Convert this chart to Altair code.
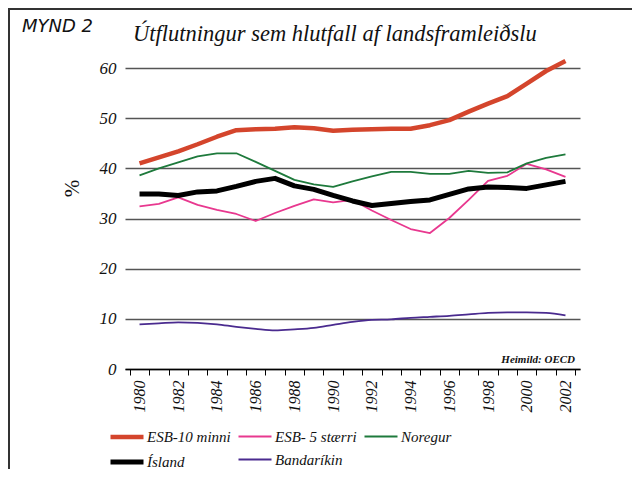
import altair as alt
import pandas as pd

years = list(range(1980, 2003))
esb10 = [41.0, 42.2, 43.4, 44.8, 46.3, 47.6, 47.8, 47.9, 48.2, 48.0, 47.5, 47.7,
         47.8, 47.9, 47.9, 48.6, 49.6, 51.3, 52.9, 54.4, 56.9, 59.4, 61.4]
esb5 = [32.4, 32.9, 34.2, 32.7, 31.7, 30.9, 29.5, 31.1, 32.5, 33.8, 33.2, 33.7,
        31.6, 29.7, 27.9, 27.1, 30.1, 33.7, 37.5, 38.5, 40.9, 39.8, 38.3]
noregur = [38.6, 40.0, 41.2, 42.4, 43.0, 43.0, 41.3, 39.5, 37.7, 36.8, 36.3, 37.4,
           38.4, 39.3, 39.3, 38.9, 38.9, 39.5, 39.1, 39.2, 41.0, 42.1, 42.8]
island = [34.9, 34.9, 34.6, 35.3, 35.5, 36.4, 37.4, 38.0, 36.5, 35.8, 34.6, 33.5,
          32.6, 33.0, 33.4, 33.7, 34.8, 35.9, 36.3, 36.2, 36.0, 36.7, 37.4]
usa = [8.9, 9.1, 9.3, 9.2, 8.9, 8.4, 8.0, 7.7, 7.9, 8.2, 8.8, 9.4,
       9.8, 9.9, 10.2, 10.4, 10.6, 10.9, 11.2, 11.3, 11.3, 11.2, 10.7]

series_names = ["ESB-10 minni", "ESB- 5 stærri", "Noregur", "Ísland", "Bandaríkin"]
series_values = [esb10, esb5, noregur, island, usa]
series_colors = ["#d4452c", "#e8388f", "#1e7a3c", "#000000", "#4a2b8f"]
series_widths = [4.5, 1.8, 1.8, 5, 1.8]

rows = []
for name, vals in zip(series_names, series_values):
    for y, v in zip(years, vals):
        rows.append({"year": y, "value": v, "series": name})
df = pd.DataFrame(rows)

W, H = 455, 301
PAD = {"left": 117, "top": 60, "right": 52, "bottom": 100}

serif = "Liberation Serif"

x_enc = alt.X("year:O", scale=alt.Scale(type="band", paddingInner=0, paddingOuter=0.25),
              axis=alt.Axis(title=None, labelAngle=-90, tickBand="extent",
                            labelExpr="datum.value % 2 == 0 ? datum.label : ''",
                            labelFont=serif, labelFontStyle="italic", labelFontSize=16,
                            labelColor="#111", labelPadding=5, tickSize=6,
                            tickColor="#000", tickWidth=1, domainColor="#000",
                            domainWidth=1.5, grid=False))
y_enc = alt.Y("value:Q", scale=alt.Scale(domain=[0, 60], nice=False),
              axis=alt.Axis(title="%", values=[0, 10, 20, 30, 40, 50, 60],
                            domain=False, ticks=False, grid=True, gridColor="#555",
                            gridWidth=1.4, labelFont=serif, labelFontStyle="italic",
                            labelFontSize=17, labelColor="#111", labelPadding=9,
                            titleFont=serif, titleFontSize=21, titleFontWeight="normal",
                            titleColor="#111", titleAngle=-90, titleX=-53, titleY=120,
                            titleAlign="center", titleBaseline="middle"))

# stroke symbol 3x longer than its layout box (box 11px, stroke 33px)
legend_kw = dict(title=None, orient="none", legendX=-6, legendY=361,
                 direction="horizontal", columns=3, gridAlign="none",
                 symbolType="M-3,0H3", symbolSize=121,
                 labelFont=serif, labelFontStyle="italic",
                 labelFontSize=15, labelColor="#111",
                 labelOffset=12, columnPadding=3, rowPadding=6,
                 labelLimit=200)
color_enc = alt.Color("series:N",
                      scale=alt.Scale(domain=series_names, range=series_colors),
                      legend=alt.Legend(**legend_kw))
sw_enc = alt.StrokeWidth("series:N",
                         scale=alt.Scale(type="ordinal", domain=series_names, range=series_widths),
                         legend=alt.Legend(**legend_kw))

base = alt.Chart(df)
lines_lin = base.transform_filter(alt.datum.series != "Bandaríkin").mark_line(
    interpolate="linear", strokeJoin="round").encode(
    x=x_enc, y=y_enc, color=color_enc, strokeWidth=sw_enc)
lines_smooth = base.transform_filter(alt.datum.series == "Bandaríkin").mark_line(
    interpolate="monotone").encode(
    x=x_enc, y=y_enc, color=color_enc, strokeWidth=sw_enc)

one = pd.DataFrame({"a": [0]})
deco = alt.Chart(one)
frame_left = deco.mark_rule(color="#333", strokeWidth=2).encode(
    x=alt.value(-116), y=alt.value(-60), y2=alt.value(H + PAD["bottom"]))
frame_top = deco.mark_rule(color="#333", strokeWidth=2).encode(
    x=alt.value(-117), x2=alt.value(W + PAD["right"]), y=alt.value(-59))
mynd = deco.mark_text(text="MYND 2", font="DejaVu Sans", fontStyle="italic", fontSize=18,
                      align="left", baseline="alphabetic", color="#111").encode(
    x=alt.value(-103), y=alt.value(-36))
title = deco.mark_text(text="Útflutningur sem hlutfall af landsframleiðslu", font=serif,
                       fontStyle="italic", fontSize=22.5, align="left",
                       baseline="alphabetic", color="#111").encode(
    x=alt.value(8), y=alt.value(-27))
source = deco.mark_text(text="Heimild: OECD", font=serif, fontStyle="italic",
                        fontWeight="bold", fontSize=11, align="right",
                        baseline="alphabetic", color="#111").encode(
    x=alt.value(W - 5), y=alt.value(H - 6))

chart = alt.layer(lines_lin, lines_smooth, frame_left, frame_top, mynd, title, source).properties(
    width=W, height=H, padding=PAD, background="white",
    autosize=alt.AutoSizeParams(type="none"),
).configure_view(stroke=None)

chart.save("out.html", embed_options={"renderer": "svg", "actions": False})
